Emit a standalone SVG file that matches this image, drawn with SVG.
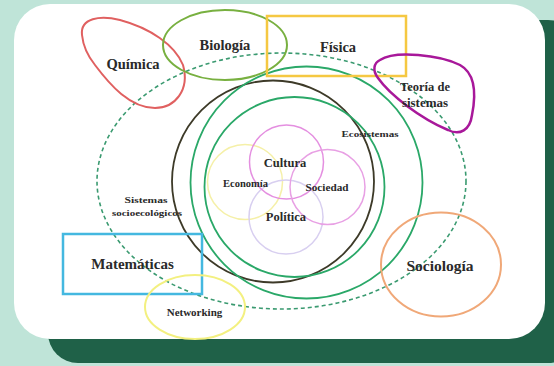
<svg xmlns="http://www.w3.org/2000/svg" width="554" height="366" viewBox="0 0 554 366">
<style>
.t{font-family:"Liberation Serif","Times New Roman",serif;font-weight:bold;fill:#2a2a2a;text-anchor:middle;dominant-baseline:central}
.s{fill:none}
</style>
<rect x="0" y="0" width="554" height="366" fill="#bfe4d8"/>
<rect x="48" y="20" width="530" height="343" rx="30" fill="#1f6148"/>
<rect x="14" y="4" width="531" height="335" rx="36" fill="#ffffff"/>
<g id="connectors"/>
<g id="sistemas-socioecologicos">
<ellipse class="s" cx="281.5" cy="181" rx="184.5" ry="128" stroke="#3a9a70" stroke-width="1.6" stroke-dasharray="4 3"/>
<text class="t" x="146" y="200" font-size="9" textLength="43" lengthAdjust="spacingAndGlyphs">Sistemas</text>
<text class="t" x="147" y="213" font-size="9" textLength="70" lengthAdjust="spacingAndGlyphs">socioecológicos</text>
</g>
<g id="circulo-oscuro">
<circle class="s" cx="273" cy="181.5" r="101" stroke="#3d3a28" stroke-width="1.8"/>
</g>
<g id="circulo-verde-a">
<circle class="s" cx="306.5" cy="182.5" r="116" stroke="#2aa868" stroke-width="1.8"/>
</g>
<g id="ecosistemas">
<circle class="s" cx="294.5" cy="187" r="90" stroke="#2aa868" stroke-width="1.8"/>
<text class="t" x="370" y="134" font-size="9" textLength="57" lengthAdjust="spacingAndGlyphs">Ecosistemas</text>
</g>
<g id="economia">
<circle class="s" cx="245" cy="182" r="37.5" stroke="#f5f0a8" stroke-width="1.5"/>
</g>
<g id="politica">
<circle class="s" cx="286" cy="217" r="37" stroke="#d8cff0" stroke-width="1.5"/>
</g>
<g id="cultura">
<circle class="s" cx="286.5" cy="162" r="37" stroke="#e48fe0" stroke-width="1.5"/>
</g>
<g id="sociedad">
<circle class="s" cx="327.5" cy="187" r="37.5" stroke="#e8a0e4" stroke-width="1.5"/>
</g>
<text class="t" x="285" y="163" font-size="12.5">Cultura</text>
<text class="t" x="245.5" y="184" font-size="9.5" textLength="45" lengthAdjust="spacingAndGlyphs">Economía</text>
<text class="t" x="327" y="188" font-size="9.5" textLength="43" lengthAdjust="spacingAndGlyphs">Sociedad</text>
<text class="t" x="286" y="217" font-size="12.5">Política</text>
<g id="quimica">
<path class="s" d="M 82,35 C 80,18 100,15 120,20 C 150,28 175,45 183,65 C 190,90 175,108 155,108 C 130,108 110,85 95,65 C 87,55 83,45 82,35 Z" stroke="#e06060" stroke-width="2"/>
<text class="t" x="133" y="64" font-size="14.5">Química</text>
</g>
<g id="biologia">
<ellipse class="s" cx="225" cy="45" rx="62" ry="35" stroke="#78b040" stroke-width="2"/>
<text class="t" x="225" y="45" font-size="14.5">Biología</text>
</g>
<g id="fisica">
<rect class="s" x="267" y="16" width="139" height="60" stroke="#f5c842" stroke-width="2.5"/>
<text class="t" x="338" y="47" font-size="14.5">Física</text>
</g>
<g id="teoria-sistemas">
<path class="s" d="M 380,60 C 395,50 440,55 460,65 C 478,75 475,100 472,115 C 470,130 460,136 448,130 C 420,118 390,95 378,78 C 372,70 374,63 380,60 Z" stroke="#a8189a" stroke-width="2.5"/>
<text class="t" x="425" y="87" font-size="12.5">Teoría de</text>
<text class="t" x="425" y="102" font-size="13">sistemas</text>
</g>
<g id="matematicas">
<rect class="s" x="63" y="234" width="139" height="60" stroke="#44b8e0" stroke-width="2.5"/>
<text class="t" x="132.5" y="264" font-size="15">Matemáticas</text>
</g>
<g id="networking">
<ellipse class="s" cx="195" cy="307" rx="50" ry="32" stroke="#f3f080" stroke-width="2"/>
<text class="t" x="194.5" y="312" font-size="11">Networking</text>
</g>
<g id="sociologia">
<ellipse class="s" cx="441" cy="264.5" rx="60" ry="52" stroke="#f0a878" stroke-width="2"/>
<text class="t" x="440" y="265" font-size="15.5">Sociología</text>
</g>
</svg>
